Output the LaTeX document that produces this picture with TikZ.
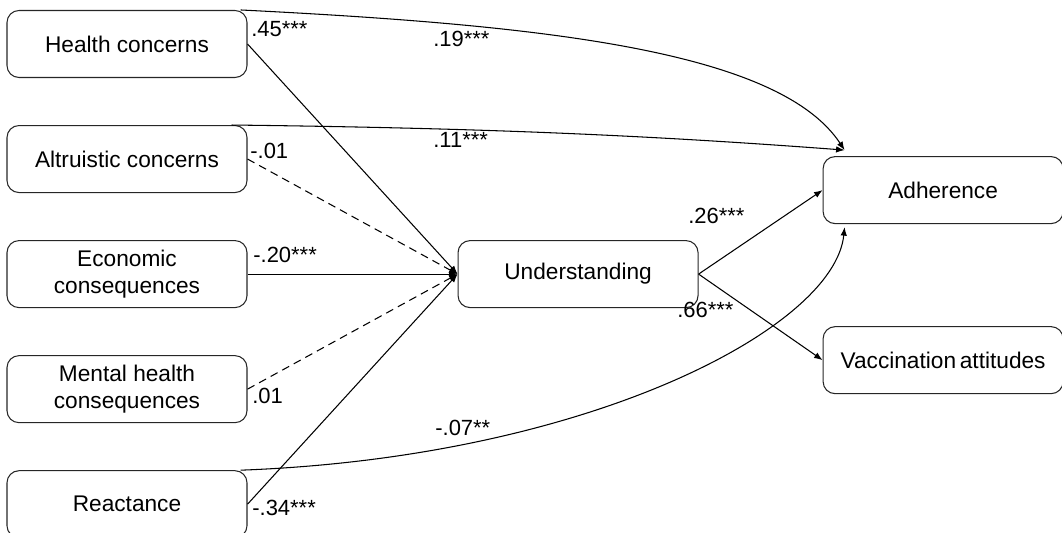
\documentclass[tikz,border=0pt]{standalone}
\usepackage{fontspec}
\setmainfont{Liberation Sans}
\usetikzlibrary{arrows.meta,positioning}

\begin{document}
\begin{tikzpicture}[
  node distance=0.94cm and 4.2cm,
  box/.style={draw=black!85, line width=0.6pt, rounded corners=0.24cm, align=center, minimum width=4.8cm, minimum height=1.34cm, font=\fontsize{12.9}{15.5}\selectfont},
  line/.style={-{Latex[length=1.7mm,width=1.3mm]}, line width=0.6pt},
  dashline/.style={line, dash pattern=on 4.5pt off 3pt},
  coef/.style={anchor=base west, inner sep=0pt, font=\fontsize{12.5}{15}\selectfont}
]
\useasboundingbox (0,0) rectangle (21.24,10.66);

\node[box] (health) at (2.54,9.78) {Health concerns};
\node[box, below=of health] (altru) {Altruistic concerns};
\node[box, below=of altru] (econ) {Economic\\consequences};
\node[box, below=of econ] (mental) {Mental health\\consequences};
\node[box, below=of mental] (react) {Reactance};
\node[box, right=of econ] (under) {Understanding};
\node[box, right=2.48cm of under, yshift=1.68cm] (adher) {Adherence};
\node[box, below=2.04cm of adher] (vacc) {Vaccination\,attitudes};

% paths into understanding
\draw[line] (health.east) -- (under.west);
\draw[dashline] (altru.east) -- (under.west);
\draw[line] (econ) -- (under);
\draw[dashline] (mental.east) -- (under.west);
\draw[line] (react.east) -- (under.west);

% outcomes
\draw[line] (under.east) -- (adher.west);
\draw[line] (under.east) -- (vacc.west);

% direct paths to adherence
\draw[line] ([xshift=-0.14cm]health.north east) .. controls +(6,-0.3) and +(-1.32,2) .. ([xshift=0.44cm,yshift=0.12cm]adher.north west);
\draw[line] ([xshift=-0.32cm]altru.north east) .. controls +(5,-0.06) and +(-4,0.3) .. ([xshift=0.44cm,yshift=0.12cm]adher.north west);
\draw[line] ([xshift=-0.14cm]react.north east) .. controls +(7,0.26) and +(-0.2,-2) .. ([xshift=0.44cm,yshift=-0.06cm]adher.south west);

% coefficients
\node[coef] (c1) at (5.02,9.93) {.45***};
\node[coef] (c2) at (8.66,9.73) {.19***};
\node[coef] (c3) at (5.0,7.48) {-.01};
\node[coef] (c4) at (8.66,7.70) {.11***};
\node[coef] (c5) at (5.06,5.40) {-.20***};
\node[coef] (c6) at (5.04,2.58) {.01};
\node[coef] (c7) at (8.7,1.94) {-.07**};
\node[coef] (c8) at (5.04,0.34) {-.34***};
\node[coef] (c9) at (13.76,6.18) {.26***};
\node[coef] (c10) at (13.54,4.30) {.66***};
\end{tikzpicture}
\end{document}
